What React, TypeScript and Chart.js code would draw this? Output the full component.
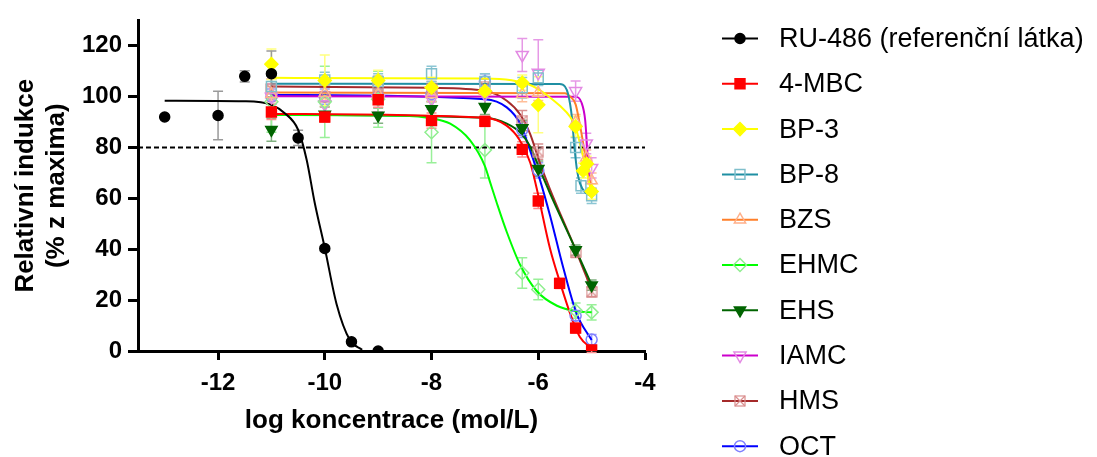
import React, { useEffect, useRef } from 'react';
import { Chart, registerables } from 'chart.js';

Chart.register(...registerables);

// ---------- axes ----------
const xTickValues = [-12, -10, -8, -6, -4];
const yTickValues = [0, 20, 40, 60, 80, 100, 120];
const thresholdLogConc = [-13.5, -4];
const thresholdResp = [80, 80];

// ---------- RU-486 ----------
const ruLogConc = [-13, -12, -11.5, -11, -10.5, -10, -9.5, -9];
const ruResp = [92, 92.6, 108, 109, 83.8, 40.3, 3.6, 0];
const ruSd = [0, 9.5, 2.2, 9, 3, 1, 0.5, 0];
const ruFitLogConc = [-13, -11.5, -11, -10.75, -10.5, -10.34, -10.19, -10, -9.78, -9.53, -9.3];
const ruFitResp = [98.4, 98.2, 96.8, 93.5, 87, 75.2, 58.4, 40.5, 18.5, 4.3, 0.5];

// ---------- 4-MBC ----------
const mbcLogConc = [-11, -10, -9, -8, -7, -6.3, -6, -5.6, -5.3, -5];
const mbcResp = [94, 92, 98.8, 90.6, 90.3, 79.3, 59, 26.6, 9, 0.4];
const mbcSd = [3, 2, 3, 3, 2, 3, 3, 2, 2, 1];
const mbcFitLogConc = [-11, -7, -6.6, -6.35, -6.15, -6.03, -5.78, -5.59, -5.4, -5.22, -5];
const mbcFitResp = [93.2, 91.7, 88.7, 83, 74, 64, 40.3, 26.8, 14.6, 5.5, 1];

// ---------- BP-3 ----------
const bp3LogConc = [-11, -10, -9, -8, -7, -6.3, -6, -5.3, -5.16, -5.09, -5];
const bp3Resp = [112.8, 106.4, 106.4, 103.6, 102.2, 105.5, 96.8, 88.3, 70.9, 73.6, 62.7];
const bp3Sd = [6, 10, 4, 4, 3, 3, 11, 4, 3, 3, 3];
const bp3FitLogConc = [-11, -7, -6.5, -6.2, -6, -5.8, -5.6, -5.4, -5.3, -5.2, -5.1, -5];
const bp3FitResp = [107.4, 107.2, 106.5, 105, 103, 100, 96.5, 92, 88, 80, 71, 62];

// ---------- BP-8 ----------
const bp8LogConc = [-11, -10, -9, -8, -7, -6.3, -6, -5.3, -5.2, -5];
const bp8Resp = [104, 106.6, 106, 109, 106, 103.5, 107.4, 80, 65, 61];
const bp8Sd = [4, 3, 3, 3, 3, 4, 3, 4, 3, 3];
const bp8FitLogConc = [-11, -5.6, -5.5, -5.44, -5.37, -5.33, -5.28, -5.22, -5.1, -5];
const bp8FitResp = [105.1, 105, 104, 101, 92, 82, 72, 66, 62, 61];

// ---------- BZS ----------
const bzsLogConc = [-11, -10, -9, -8, -7, -6.3, -6, -5.3, -5.1, -5];
const bzsResp = [101, 101.5, 101, 101, 102, 101, 101.5, 90, 76, 67];
const bzsSd = [3, 3, 3, 3, 3, 3, 3, 3, 3, 3];
const bzsFitLogConc = [-11, -5.5, -5.4, -5.3, -5.22, -5.13, -5.07, -5];
const bzsFitResp = [101.6, 101.4, 100, 97, 89, 78, 69, 65];

// ---------- EHMC ----------
const ehmcLogConc = [-11, -10, -9, -8, -7, -6.3, -6, -5.3, -5];
const ehmcResp = [98, 98, 99, 86, 79, 30.7, 24.2, 15.9, 15.2];
const ehmcSd = [12, 14, 11, 12, 11, 6, 4, 3, 3];
const ehmcFitLogConc = [-11, -8.5, -8.03, -7.65, -7.28, -7, -6.9, -6.78, -6.59, -6.34, -6.03, -5.65, -5.28, -5];
const ehmcFitResp = [92.8, 92.5, 91.6, 89.4, 82.9, 72.7, 66.2, 58.4, 46.8, 33.9, 23.6, 17.8, 15.6, 15.2];

// ---------- EHS ----------
const ehsLogConc = [-11, -10, -9, -8, -7, -6.3, -6, -5.3, -5];
const ehsResp = [87, 93, 92.6, 95.2, 96, 87.7, 71.7, 39.7, 25.9];
const ehsSd = [4.5, 3, 3, 3, 3, 3, 3, 2, 2];
const ehsFitLogConc = [-11, -7, -6.59, -6.32, -6.155, -5.97, -5.78, -5.3, -5];
const ehsFitResp = [93, 91.7, 89.4, 85.5, 80.5, 71.3, 62, 40, 26];

// ---------- IAMC ----------
const iamcLogConc = [-11, -10, -9, -8, -7, -6.3, -6, -5.3, -5.1, -5];
const iamcResp = [100, 97, 99, 99, 101, 116.4, 109.4, 102.2, 81.6, 72];
const iamcSd = [5, 5, 5, 4, 4, 6.5, 13, 4, 4, 4];
const iamcFitLogConc = [-11, -5.3, -5.19, -5.12, -5.09, -5.06, -5];
const iamcFitResp = [100.2, 100, 97.7, 90.6, 81.6, 71.3, 61];

// ---------- HMS ----------
const hmsLogConc = [-11, -10, -9, -8, -7, -6.3, -6, -5.3, -5];
const hmsResp = [103, 100, 104, 103, 104, 90.6, 78.4, 38.8, 23.3];
const hmsSd = [4, 4, 4, 3, 3, 4, 3, 2, 2];
const hmsFitLogConc = [-11, -8, -7, -6.59, -6.34, -6.155, -5.97, -5.78, -5.3, -5];
const hmsFitResp = [104, 103.5, 102.3, 98.4, 93, 85.5, 74, 63.6, 39.8, 24];

// ---------- OCT ----------
const octLogConc = [-11, -10, -9, -8, -7, -6.3, -6, -5.3, -5];
const octResp = [100, 100, 100, 101, 106, 87, 71, 13.9, 4.5];
const octSd = [3, 3, 3, 3, 3, 3, 3, 2, 2];
const octFitLogConc = [-11, -7, -6.59, -6.34, -6.155, -5.97, -5.78, -5.53, -5.28, -5];
const octFitResp = [100.7, 99, 95.8, 89.4, 79, 67.4, 53.3, 32.6, 14.6, 4.3];

type Series = {
  name: string;
  line: string;
  marker: string;
  fill: string;
  err: string;
  style: string;
  radius: number;
  rotation: number;
  xs: number[];
  ys: number[];
  sd: number[];
  fx: number[];
  fy: number[];
};

const SERIES: Series[] = [
  { name: 'RU-486 (referenční látka)', line: '#000000', marker: '#000000', fill: '#000000', err: '#9a9a9a', style: 'circle', radius: 5, rotation: 0, xs: ruLogConc, ys: ruResp, sd: ruSd, fx: ruFitLogConc, fy: ruFitResp },
  { name: '4-MBC', line: '#ff0000', marker: '#ff0000', fill: '#ff0000', err: '#ff8c8c', style: 'rect', radius: 7, rotation: 0, xs: mbcLogConc, ys: mbcResp, sd: mbcSd, fx: mbcFitLogConc, fy: mbcFitResp },
  { name: 'BP-3', line: '#ffff00', marker: '#ffff00', fill: '#ffff00', err: '#ffff80', style: 'rectRot', radius: 6.5, rotation: 0, xs: bp3LogConc, ys: bp3Resp, sd: bp3Sd, fx: bp3FitLogConc, fy: bp3FitResp },
  { name: 'BP-8', line: '#1f8fa3', marker: '#80bfcc', fill: 'rgba(0,0,0,0)', err: '#8cc6d4', style: 'rect', radius: 7, rotation: 0, xs: bp8LogConc, ys: bp8Resp, sd: bp8Sd, fx: bp8FitLogConc, fy: bp8FitResp },
  { name: 'BZS', line: '#ff7f2a', marker: '#ffb08a', fill: 'rgba(0,0,0,0)', err: '#ffbe99', style: 'triangle', radius: 6.5, rotation: 0, xs: bzsLogConc, ys: bzsResp, sd: bzsSd, fx: bzsFitLogConc, fy: bzsFitResp },
  { name: 'EHMC', line: '#00ff00', marker: '#90ee90', fill: 'rgba(0,0,0,0)', err: '#99f099', style: 'rectRot', radius: 6.5, rotation: 0, xs: ehmcLogConc, ys: ehmcResp, sd: ehmcSd, fx: ehmcFitLogConc, fy: ehmcFitResp },
  { name: 'EHS', line: '#006400', marker: '#006400', fill: '#006400', err: '#80b080', style: 'triangle', radius: 6.5, rotation: 180, xs: ehsLogConc, ys: ehsResp, sd: ehsSd, fx: ehsFitLogConc, fy: ehsFitResp },
  { name: 'IAMC', line: '#cc00cc', marker: '#e38ae3', fill: 'rgba(0,0,0,0)', err: '#e699e6', style: 'triangle', radius: 7, rotation: 180, xs: iamcLogConc, ys: iamcResp, sd: iamcSd, fx: iamcFitLogConc, fy: iamcFitResp },
  { name: 'HMS', line: '#a52a2a', marker: '#d98c8c', fill: 'rgba(0,0,0,0)', err: '#d89090', style: 'crossBox', radius: 6, rotation: 0, xs: hmsLogConc, ys: hmsResp, sd: hmsSd, fx: hmsFitLogConc, fy: hmsFitResp },
  { name: 'OCT', line: '#0000ff', marker: '#8080ff', fill: 'rgba(0,0,0,0)', err: '#9999ff', style: 'circle', radius: 5.5, rotation: 0, xs: octLogConc, ys: octResp, sd: octSd, fx: octFitLogConc, fy: octFitResp },
];

const FONT = '"Liberation Sans", Arial, sans-serif';

function makeCrossBox(color: string, size: number) {
  const c = document.createElement('canvas');
  c.width = size;
  c.height = size;
  const g = c.getContext('2d')!;
  g.strokeStyle = color;
  g.lineWidth = 1.2;
  g.strokeRect(1, 1, size - 2, size - 2);
  g.beginPath();
  g.moveTo(1, 1);
  g.lineTo(size - 1, size - 1);
  g.moveTo(size - 1, 1);
  g.lineTo(1, size - 1);
  g.stroke();
  return c;
}

function drawMarker(ctx: CanvasRenderingContext2D, s: Series, x: number, y: number, crossImg: HTMLCanvasElement) {
  const r = s.radius;
  ctx.save();
  ctx.fillStyle = s.fill;
  ctx.strokeStyle = s.marker;
  ctx.lineWidth = 1.5;
  ctx.beginPath();
  if (s.style === 'circle') {
    ctx.arc(x, y, r, 0, Math.PI * 2);
  } else if (s.style === 'rect') {
    const h = r * Math.SQRT1_2;
    ctx.rect(x - h, y - h, 2 * h, 2 * h);
  } else if (s.style === 'rectRot') {
    ctx.moveTo(x, y - r);
    ctx.lineTo(x + r, y);
    ctx.lineTo(x, y + r);
    ctx.lineTo(x - r, y);
    ctx.closePath();
  } else if (s.style === 'triangle') {
    const d = s.rotation === 180 ? -1 : 1;
    ctx.moveTo(x, y - d * r);
    ctx.lineTo(x + r * 0.866, y + d * r * 0.5);
    ctx.lineTo(x - r * 0.866, y + d * r * 0.5);
    ctx.closePath();
  } else if (s.style === 'crossBox') {
    ctx.drawImage(crossImg, x - crossImg.width / 2, y - crossImg.height / 2);
    ctx.restore();
    return;
  }
  ctx.fill();
  ctx.stroke();
  ctx.restore();
}

export default function App() {
  const ref = useRef<HTMLCanvasElement>(null);

  useEffect(() => {
    const crossImg = makeCrossBox('#d98c8c', 12);

    const errorBars = {
      id: 'errorBars',
      beforeDatasetsDraw(chart: any) {
        const { ctx, scales } = chart;
        const xs = scales.x;
        const ys = scales.y;
        ctx.save();
        for (let k = SERIES.length - 1; k >= 0; k--) {
          const s = SERIES[k];
          ctx.strokeStyle = s.err;
          ctx.lineWidth = 1.5;
          s.xs.forEach((xv, i) => {
            const e = s.sd[i];
            if (!e) return;
            const px = xs.getPixelForValue(xv);
            const y1 = ys.getPixelForValue(s.ys[i] + e);
            const y2 = ys.getPixelForValue(s.ys[i] - e);
            ctx.beginPath();
            ctx.moveTo(px, y1);
            ctx.lineTo(px, y2);
            ctx.moveTo(px - 5, y1);
            ctx.lineTo(px + 5, y1);
            ctx.moveTo(px - 5, y2);
            ctx.lineTo(px + 5, y2);
            ctx.stroke();
          });
        }
        ctx.restore();
      },
    };

    const legendPlugin = {
      id: 'sideLegend',
      afterDraw(chart: any) {
        const ctx: CanvasRenderingContext2D = chart.ctx;
        const lineX0 = 722;
        const lineX1 = 758;
        const textX = 779;
        const startY = 38.5;
        const step = 45.3;
        ctx.save();
        SERIES.forEach((s, i) => {
          const y = startY + i * step;
          ctx.strokeStyle = s.line;
          ctx.lineWidth = 2;
          ctx.beginPath();
          ctx.moveTo(lineX0, y);
          ctx.lineTo(lineX1, y);
          ctx.stroke();
          drawMarker(ctx, s, (lineX0 + lineX1) / 2, y, crossImg);
          ctx.fillStyle = '#000';
          ctx.font = `27px ${FONT}`;
          ctx.textBaseline = 'middle';
          ctx.textAlign = 'left';
          ctx.fillText(s.name, textX, y + 1);
        });
        ctx.restore();
      },
    };

    const pointSets = SERIES.map((s) => ({
      label: s.name,
      data: s.xs.map((x, i) => ({ x, y: s.ys[i] })),
      showLine: false,
      pointStyle: s.style === 'crossBox' ? crossImg : s.style,
      pointRotation: s.rotation,
      pointRadius: s.radius,
      pointBackgroundColor: s.fill,
      pointBorderColor: s.marker,
      pointBorderWidth: 1.5,
    }));

    const curveSets = SERIES.map((s) => ({
      label: s.name + ' fit',
      data: s.fx.map((x, i) => ({ x, y: s.fy[i] })),
      showLine: true,
      borderColor: s.line,
      borderWidth: 2,
      pointRadius: 0,
      cubicInterpolationMode: 'monotone',
      fill: false,
    }));

    const thresholdSet = {
      label: 'threshold',
      data: thresholdLogConc.map((x, i) => ({ x, y: thresholdResp[i] })),
      showLine: true,
      borderColor: '#000',
      borderWidth: 2,
      borderDash: [5, 3],
      pointRadius: 0,
      fill: false,
    };

    const chart = new Chart(ref.current!, {
      type: 'scatter',
      data: { datasets: [...pointSets, ...curveSets, thresholdSet] as any },
      options: {
        responsive: false,
        animation: false,
        events: [],
        layout: { padding: { left: 0, right: 452, top: 14.5, bottom: 0 } },
        plugins: { legend: { display: false }, tooltip: { enabled: false } },
        scales: {
          x: {
            type: 'linear',
            min: -13.5,
            max: -4,
            afterBuildTicks: (s: any) => {
              s.ticks = xTickValues.map((v) => ({ value: v }));
            },
            afterFit: (s: any) => {
              s.height = 106;
            },
            border: { display: true, color: '#000', width: 3 },
            grid: { display: true, drawOnChartArea: false, drawTicks: true, tickLength: 9, tickWidth: 3, tickColor: '#000' },
            ticks: { color: '#000', font: { family: FONT, size: 24, weight: 'bold' }, padding: 9, maxRotation: 0, autoSkip: false },
            title: { display: true, text: 'log koncentrace (mol/L)', color: '#000', font: { family: FONT, size: 26, weight: 'bold' }, padding: { top: 0, bottom: 21 } },
          },
          y: {
            type: 'linear',
            min: 0,
            max: 130,
            afterBuildTicks: (s: any) => {
              s.ticks = yTickValues.map((v) => ({ value: v }));
            },
            afterFit: (s: any) => {
              s.width = 138;
            },
            border: { display: true, color: '#000', width: 3 },
            grid: { display: true, drawOnChartArea: false, drawTicks: true, tickLength: 10, tickWidth: 3, tickColor: '#000' },
            ticks: { color: '#000', font: { family: FONT, size: 24, weight: 'bold' }, padding: 6, autoSkip: false },
            title: { display: true, text: ['Relativní indukce', '(% z maxima)'], color: '#000', font: { family: FONT, size: 26, weight: 'bold' }, padding: { top: 10, bottom: 0 } },
          },
        },
      } as any,
      plugins: [errorBars, legendPlugin],
    });
    return () => chart.destroy();
  }, []);

  return (
    <div style={{ position: 'fixed', left: 0, top: 0, width: 1097, height: 457, background: '#fff' }}>
      <canvas ref={ref} width={1097} height={457} style={{ display: 'block', width: 1097, height: 457 }} />
    </div>
  );
}
